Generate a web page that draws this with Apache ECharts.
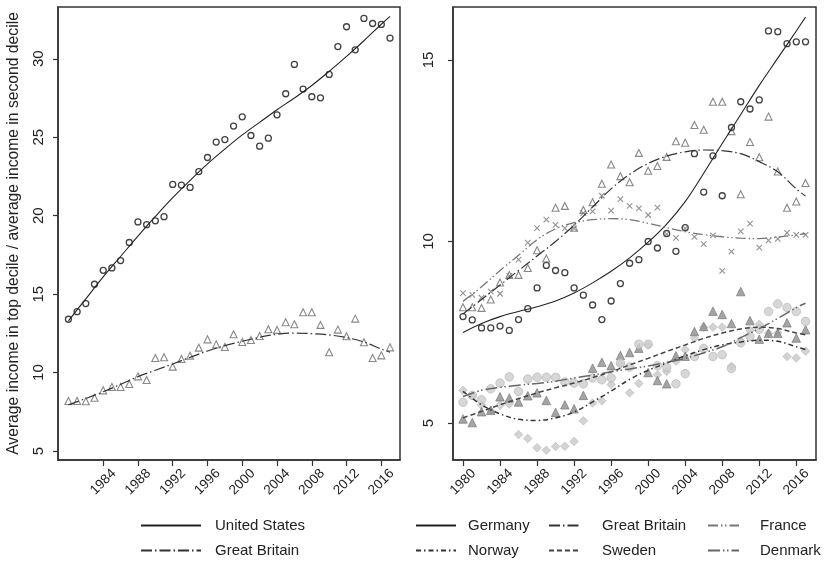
<!DOCTYPE html>
<html>
<head>
<meta charset="utf-8">
<script src="https://cdn.jsdelivr.net/npm/echarts@6/dist/echarts.min.js"></script>
<style>
  html, body { margin: 0; padding: 0; background: #fff; }
  #chart { width: 828px; height: 561px; }
</style>
</head>
<body>
<div id="chart"></div>
<script>
// Yearly observations
const years = [1980, 1981, 1982, 1983, 1984, 1985, 1986, 1987, 1988, 1989,
               1990, 1991, 1992, 1993, 1994, 1995, 1996, 1997, 1998, 1999,
               2000, 2001, 2002, 2003, 2004, 2005, 2006, 2007, 2008, 2009,
               2010, 2011, 2012, 2013, 2014, 2015, 2016, 2017];

// Ratios of average income: top decile over second decile
const usRatio = [13.4, 13.88, 14.4, 15.63, 16.52, 16.67, 17.14, 18.29, 19.6, 19.43,
                 19.67, 19.94, 21.99, 21.95, 21.8, 22.81, 23.71, 24.69, 24.85, 25.71,
                 26.3, 25.11, 24.43, 24.94, 26.43, 27.77, 29.64, 28.07, 27.58, 27.51,
                 29.0, 30.78, 32.04, 30.57, 32.57, 32.25, 32.19, 31.32];
const gbRatio = [8.19, 8.19, 8.17, 8.4, 8.87, 9.08, 9.08, 9.27, 9.76, 9.53,
                 10.93, 10.98, 10.38, 10.87, 11.08, 11.59, 12.12, 11.8, 11.63, 12.44,
                 11.95, 12.08, 12.33, 12.76, 12.72, 13.21, 13.08, 13.85, 13.85, 13.04,
                 11.3, 12.74, 12.32, 13.44, 11.93, 10.93, 11.1, 11.61];
const deRatio = [7.93, 7.84, 7.62, 7.62, 7.67, 7.55, 7.85, 8.15, 8.72, 9.34,
                 9.2, 9.14, 8.72, 8.52, 8.25, 7.85, 8.36, 8.84, 9.4, 9.5,
                 10.0, 9.82, 10.22, 9.73, 10.38, 12.42, 11.36, 12.36, 11.26, 13.14,
                 13.85, 13.65, 13.9, 15.8, 15.78, 15.45, 15.5, 15.5];
const frRatio = [8.58, 8.53, 8.45, 8.62, 8.56, 9.05, 9.5, 9.97, 10.37, 10.6,
                 10.46, 10.37, 10.36, 10.78, 10.83, 11.26, 10.85, 11.17, 10.98, 10.91,
                 10.73, 10.93, 10.2, 10.1, 10.36, 10.13, 9.93, 10.17, 9.19, 9.72,
                 10.28, 10.49, 9.83, 10.03, 10.07, 10.24, 10.18, 10.18];
const noRatio = [5.9, 5.75, 5.5, 5.34, 5.49, 5.52, 4.68, 4.57, 4.32, 4.25,
                 4.35, 4.36, 4.49, 5.06, 5.55, 5.61, 6.06, 6.62, 5.83, 6.09,
                 7.15, 6.33, 6.42, 6.7, 7.02, 7.33, 7.64, 7.64, 7.64, 6.56,
                 7.26, 7.55, 7.72, 7.47, 7.48, 6.83, 6.79, 6.98];
const seRatio = [5.11, 5.01, 5.31, 5.35, 5.72, 5.69, 5.58, 5.75, 5.83, 5.62,
                 5.29, 5.5, 5.39, 5.76, 6.51, 6.67, 6.58, 6.86, 6.94, 7.06,
                 6.39, 6.17, 6.08, 6.85, 6.84, 7.52, 7.66, 8.08, 7.99, 7.74,
                 8.62, 7.82, 7.31, 7.47, 7.47, 7.76, 7.34, 7.57];
const dkRatio = [5.57, 5.76, 5.64, 5.94, 6.1, 6.27, 5.87, 6.21, 6.26, 6.26,
                 6.26, 6.13, 6.1, 6.08, 6.24, 6.19, 6.24, 6.65, 6.54, 7.17,
                 7.17, 6.58, 6.53, 6.08, 6.36, 6.83, 7.05, 6.83, 6.88, 6.5,
                 7.21, 7.39, 7.58, 8.07, 8.28, 8.18, 8.07, 7.8];

// Smoothed trend values
const fitYears = [1980, 1982, 1984, 1986, 1988, 1990, 1992, 1994, 1996, 1998,
                  2000, 2002, 2004, 2006, 2008, 2010, 2012, 2014, 2016, 2017];
const usFit   = [13.3, 14.7, 16.1, 17.4, 18.7, 19.95, 21.15, 22.25, 23.3, 24.25,
                 25.15, 25.95, 26.75, 27.5, 28.3, 29.2, 30.15, 31.15, 32.2, 32.7];
const gbFitL  = [7.94, 8.35, 8.78, 9.25, 9.74, 10.15, 10.55, 10.97, 11.38, 11.72,
                 12.0, 12.25, 12.44, 12.52, 12.48, 12.4, 12.23, 11.95, 11.5, 11.3];
const deFit   = [7.49, 7.74, 7.93, 8.07, 8.2, 8.36, 8.58, 8.86, 9.18, 9.55,
                 9.98, 10.48, 11.1, 11.88, 12.7, 13.5, 14.3, 15.05, 15.8, 16.18];
const gbFitR  = [8.0, 8.4, 8.8, 9.2, 9.6, 10.0, 10.45, 10.95, 11.45, 11.85,
                 12.15, 12.35, 12.47, 12.52, 12.5, 12.42, 12.2, 11.92, 11.45, 11.25];
const frFit   = [8.35, 8.75, 9.2, 9.62, 10.05, 10.35, 10.52, 10.6, 10.63, 10.6,
                 10.5, 10.38, 10.27, 10.19, 10.13, 10.09, 10.08, 10.12, 10.18, 10.22];
const noFit   = [5.87, 5.5, 5.25, 5.1, 5.07, 5.14, 5.3, 5.58, 5.88, 6.2,
                 6.45, 6.65, 6.85, 7.02, 7.15, 7.23, 7.28, 7.25, 7.1, 7.02];
const seFit   = [5.14, 5.32, 5.5, 5.67, 5.83, 5.97, 6.1, 6.25, 6.41, 6.6,
                 6.78, 6.97, 7.15, 7.33, 7.48, 7.59, 7.64, 7.6, 7.48, 7.43];
const dkFit   = [5.73, 5.9, 5.98, 6.04, 6.09, 6.15, 6.24, 6.32, 6.41, 6.49,
                 6.57, 6.67, 6.78, 6.93, 7.1, 7.35, 7.6, 7.88, 8.18, 8.3];

// Axis ticks
const leftYearTicks  = [1984, 1988, 1992, 1996, 2000, 2004, 2008, 2012, 2016];
const rightYearTicks = [1980, 1984, 1988, 1992, 1996, 2000, 2004, 2008, 2012, 2016];
const leftValueTicks  = [5, 10, 15, 20, 25, 30];
const rightValueTicks = [5, 10, 15];

const yTitle = 'Average income in top decile / average income in second decile';

const FONT = '"Liberation Sans", Arial, Helvetica, sans-serif';
const INK = '#333';

const pts = vals => years.map((y, i) => [y, vals[i]]);
const fitPts = vals => fitYears.map((y, i) => [y, vals[i]]);

const DASH_GB  = [11, 3, 1.5, 3];
const DASH_FR  = [10, 3, 1.5, 2.5, 1.5, 3];
const DASH_NO  = [5, 3, 1.5, 3];
const DASH_SE  = [5, 3];
const DASH_DK  = [12, 3, 1.5, 2.5, 1.5, 3];

function xAxisDef(grid, min, max, ticks) {
  return {
    gridIndex: grid, type: 'value', min: min, max: max,
    axisLine: { show: true, onZero: false, lineStyle: { color: INK, width: 1.5 } },
    axisTick: { show: true, length: 6, customValues: ticks, lineStyle: { color: INK, width: 1.2 } },
    axisLabel: {
      customValues: ticks, rotate: 45, align: 'center', verticalAlign: 'middle',
      margin: 22, fontSize: 13.5, color: '#222', fontFamily: FONT,
      formatter: v => String(v)
    },
    splitLine: { show: false }
  };
}
function yAxisDef(grid, min, max, ticks, margin) {
  return {
    gridIndex: grid, type: 'value', min: min, max: max,
    axisLine: { show: true, onZero: false, lineStyle: { color: INK, width: 1.5 } },
    axisTick: { show: true, length: 5, customValues: ticks, lineStyle: { color: INK, width: 1.2 } },
    axisLabel: {
      customValues: ticks, rotate: 90, margin: margin, fontSize: 15,
      color: '#222', fontFamily: FONT, formatter: v => String(v)
    },
    splitLine: { show: false }
  };
}

function scatter(name, xi, vals, symbol, size, style, z) {
  return {
    name: name, type: 'scatter', xAxisIndex: xi, yAxisIndex: xi,
    data: pts(vals), symbol: symbol, symbolSize: size,
    itemStyle: style, z: z || 2, silent: true
  };
}
function fit(name, xi, vals, color, dash, width) {
  return {
    name: name, type: 'line', xAxisIndex: xi, yAxisIndex: xi,
    data: fitPts(vals), smooth: 0.35, symbol: 'none', showSymbol: false,
    lineStyle: { color: color, width: width || 1.2, type: dash },
    itemStyle: { color: color }, z: 5, silent: true
  };
}

const hollow = c => ({ color: 'rgba(0,0,0,0)', borderColor: c, borderWidth: 1.3 });
const CROSS = 'path://M0,0L10,10M10,0L0,10';

// One legend block per key so the two legend columns line up exactly
function legendAt(name, left, top, iconW, textPad) {
  return {
    data: [{ name: name, itemStyle: { opacity: 0 } }],
    left: left, top: top, padding: 0, orient: 'horizontal',
    itemWidth: iconW, itemHeight: 14, selectedMode: false,
    itemStyle: { opacity: 0 },
    textStyle: { fontSize: 15, color: '#222', fontFamily: FONT, padding: [0, 0, 0, textPad] }
  };
}

const option = {
  animation: false,
  backgroundColor: '#fff',
  grid: [
    { left: 58, top: 7, width: 342, height: 453, show: true, borderColor: INK, borderWidth: 1.5, backgroundColor: 'transparent' },
    { left: 453, top: 7, width: 363, height: 453, show: true, borderColor: INK, borderWidth: 1.5, backgroundColor: 'transparent' }
  ],
  xAxis: [
    xAxisDef(0, 1978.8, 2018.15, leftYearTicks),
    xAxisDef(1, 1978.92, 2018.13, rightYearTicks)
  ],
  yAxis: [
    Object.assign(yAxisDef(0, 4.43, 33.3, leftValueTicks, 12), {
      name: yTitle, nameLocation: 'middle', nameRotate: 90, nameGap: 36,
      nameTextStyle: { fontSize: 15.7, color: '#222', fontFamily: FONT }
    }),
    yAxisDef(1, 3.98, 16.46, rightValueTicks, 17)
  ],
  legend: [
    legendAt('United States', 140, 518, 60, 9),
    legendAt('Great Britain', 140, 543, 60, 9),
    legendAt('Germany', 415, 518, 40, 7),
    legendAt('Norway', 415, 543, 40, 7),
    legendAt('Great Britain', 548, 518, 32, 16),
    legendAt('Sweden', 548, 543, 32, 16),
    legendAt('France', 707, 518, 31, 16),
    legendAt('Denmark', 707, 543, 31, 16)
  ],
  series: [
    // left panel
    scatter('US obs', 0, usRatio, 'circle', 6, hollow('#111')),
    scatter('GB obs L', 0, gbRatio, 'triangle', 7, { color: 'rgba(0,0,0,0)', borderColor: '#6a6a6a', borderWidth: 1.1 }),
    fit('United States', 0, usFit, '#222', 'solid', 1.1),
    fit('Great Britain', 0, gbFitL, '#333', DASH_GB, 1.2),
    // right panel
    scatter('DE obs', 1, deRatio, 'circle', 6, hollow('#111')),
    scatter('GB obs R', 1, gbRatio, 'triangle', 7, { color: 'rgba(0,0,0,0)', borderColor: '#6a6a6a', borderWidth: 1.1 }),
    scatter('FR obs', 1, frRatio, CROSS, 5.5, { color: 'rgba(0,0,0,0)', borderColor: '#777', borderWidth: 1.1 }),
    scatter('NO obs', 1, noRatio, 'diamond', 8.5, { color: '#c8c8c8', borderColor: '#b8b8b8', borderWidth: 0.8 }),
    scatter('SE obs', 1, seRatio, 'triangle', 8.5, { color: '#8e8e8e', borderColor: '#707070', borderWidth: 0.8 }),
    scatter('DK obs', 1, dkRatio, 'circle', 8.5, { color: '#cdcdcd', borderColor: '#b2b2b2', borderWidth: 0.8 }),
    fit('Germany', 1, deFit, '#222', 'solid', 1.1),
    fit('Great Britain', 1, gbFitR, '#333', DASH_GB, 1.2),
    fit('France', 1, frFit, '#777', DASH_FR, 1.3),
    fit('Norway', 1, noFit, '#333', DASH_NO, 1.5),
    fit('Sweden', 1, seFit, '#444', DASH_SE, 1.5),
    fit('Denmark', 1, dkFit, '#666', DASH_DK, 1.5)
  ]
};

const chart = echarts.init(document.getElementById('chart'), null, { renderer: 'canvas' });
chart.setOption(option);
</script>
</body>
</html>
